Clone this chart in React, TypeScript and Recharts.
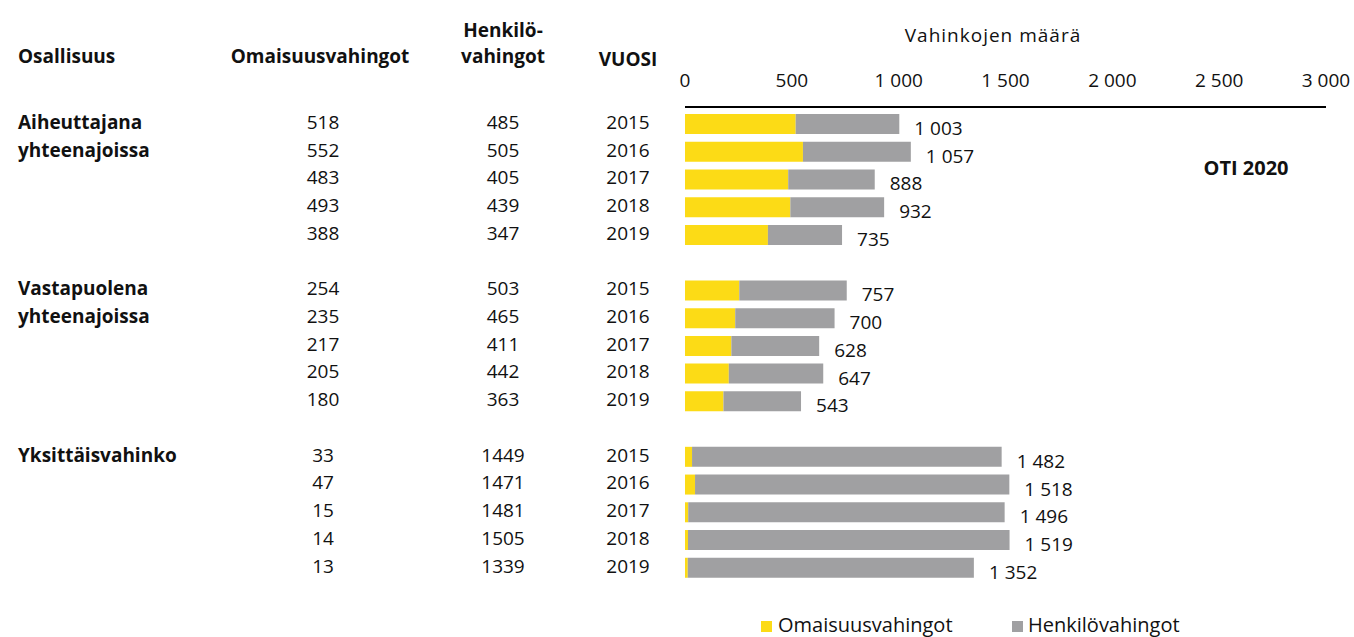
import React from "react";
import { BarChart, Bar, XAxis, YAxis, LabelList } from "recharts";

const FONT = "'Open Sans', 'Noto Sans', sans-serif";
const YELLOW = "#FCDB16";
const GREY = "#A0A0A2";

const groupLabels = [
  ["Aiheuttajana", "yhteenajoissa"],
  ["Vastapuolena", "yhteenajoissa"],
  ["Yksittäisvahinko"],
];
const years = ["2015", "2016", "2017", "2018", "2019"];
const omaisuus = [
  [518, 552, 483, 493, 388],
  [254, 235, 217, 205, 180],
  [33, 47, 15, 14, 13],
];
const henkilo = [
  [485, 505, 405, 439, 347],
  [503, 465, 411, 442, 363],
  [1449, 1471, 1481, 1505, 1339],
];
const xTicks = [0, 500, 1000, 1500, 2000, 2500, 3000];

type Row = {
  key: string;
  label: string;
  year: string;
  omaisuus: number | null;
  henkilo: number | null;
  total: number | null;
};

const rows: Row[] = [];
groupLabels.forEach((lines, g) => {
  years.forEach((year, i) => {
    const o = omaisuus[g][i];
    const h = henkilo[g][i];
    rows.push({ key: `r${g}-${i}`, label: lines[i] ?? "", year, omaisuus: o, henkilo: h, total: o + h });
  });
  if (g < groupLabels.length - 1) {
    rows.push({ key: `gap${g}`, label: "", year: "", omaisuus: null, henkilo: null, total: null });
  }
});
const rowByKey: Record<string, Row> = Object.fromEntries(rows.map((r) => [r.key, r]));

const fmt = (v: number) => String(v).replace(/\B(?=(\d{3})+(?!\d))/g, " ");

function TableTick(props: any) {
  const { y, payload } = props;
  const row = rowByKey[payload.value];
  if (!row || row.year === "") return null;
  const base = y + 5;
  const style = { fontFamily: FONT, fontSize: 19, fill: "#111" };
  return (
    <g>
      {row.label && (
        <text x={18} y={base} style={{ ...style, fontWeight: 700 }}>
          {row.label}
        </text>
      )}
      <text x={323} y={base} textAnchor="middle" style={style}>
        {row.omaisuus}
      </text>
      <text x={503} y={base} textAnchor="middle" style={style}>
        {row.henkilo}
      </text>
      <text x={628} y={base} textAnchor="middle" style={style}>
        {row.year}
      </text>
    </g>
  );
}

function TotalLabel(props: any) {
  const { x, y, width, height, value } = props;
  if (value == null) return null;
  return (
    <text x={x + width + 15} y={y + height + 1} style={{ fontFamily: FONT, fontSize: 19, fill: "#111" }}>
      {fmt(value)}
    </text>
  );
}

export default function App() {
  return (
    <div style={{ position: "absolute", left: 0, top: 0, width: 1354, height: 637, background: "#fff" }}>
      <BarChart
        width={1354}
        height={637}
        data={rows}
        layout="vertical"
        margin={{ top: 47, right: 28, bottom: 55.5, left: 0 }}
      >
        <XAxis
          type="number"
          orientation="top"
          domain={[0, 3000]}
          ticks={xTicks}
          tickFormatter={fmt}
          height={60}
          tickLine={false}
          tickSize={0}
          tickMargin={20}
          axisLine={{ stroke: "#000", strokeWidth: 2 }}
          tick={{ fill: "#111", fontSize: 19, fontFamily: FONT }}
        />
        <YAxis
          type="category"
          dataKey="key"
          width={685}
          axisLine={false}
          tickLine={false}
          padding={{ top: 3, bottom: 0 }}
          tick={<TableTick />}
          interval={0}
        />
        <Bar dataKey="omaisuus" stackId="a" fill={YELLOW} barSize={20} isAnimationActive={false} />
        <Bar dataKey="henkilo" stackId="a" fill={GREY} barSize={20} isAnimationActive={false}>
          <LabelList dataKey="total" content={<TotalLabel />} />
        </Bar>
      </BarChart>
      <svg
        width={1354}
        height={637}
        style={{ position: "absolute", left: 0, top: 0, pointerEvents: "none" }}
      >
        <g style={{ fontFamily: FONT, fontSize: 19, fontWeight: 700, fill: "#111" }}>
          <text x={18} y={63}>Osallisuus</text>
          <text x={320} y={63} textAnchor="middle">Omaisuusvahingot</text>
          <text x={503} y={37} textAnchor="middle">Henkilö-</text>
          <text x={503} y={63} textAnchor="middle">vahingot</text>
          <text x={628} y={66} textAnchor="middle">VUOSI</text>
          <text x={1246} y={175} textAnchor="middle" style={{ fontSize: 20 }}>OTI 2020</text>
        </g>
        <text
          x={993}
          y={42}
          textAnchor="middle"
          style={{ fontFamily: FONT, fontSize: 19, fill: "#111", letterSpacing: 1 }}
        >
          Vahinkojen määrä
        </text>
        <g style={{ fontFamily: FONT, fontSize: 20, fill: "#111" }}>
          <rect x={761} y={621} width={11} height={11} fill={YELLOW} />
          <text x={778} y={632}>Omaisuusvahingot</text>
          <rect x={1012} y={621} width={11} height={11} fill={GREY} />
          <text x={1028} y={632}>Henkilövahingot</text>
        </g>
      </svg>
    </div>
  );
}
